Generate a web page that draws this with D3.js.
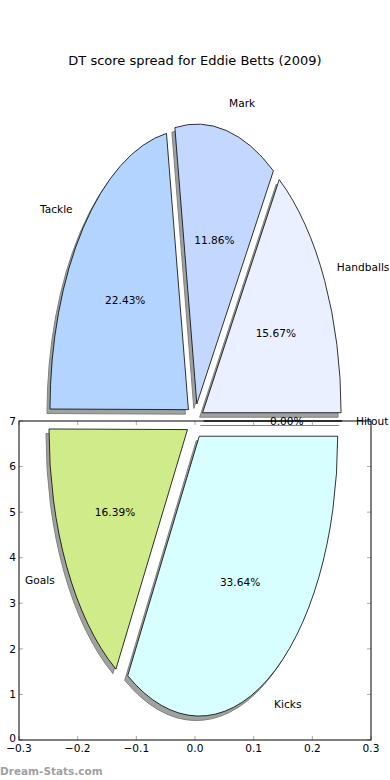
<!DOCTYPE html>
<html>
<head>
<meta charset="utf-8">
<script src="https://cdn.jsdelivr.net/npm/d3@7"></script>
<style>
  body { margin: 0; background: #fff; }
  svg { display: block; font-family: "DejaVu Sans", sans-serif; }
</style>
</head>
<body>
<script>
/*
*    pie of DT score spread
*/

var labels = ["Handballs", "Mark", "Tackle", "Goals", "Kicks", "Hitout"];
var shares = [15.67, 11.86, 22.43, 16.39, 33.64, 0.00];
var colors = ["#eaf0ff", "#c4d8ff", "#b3d4ff", "#cfeb8a", "#d8ffff", "#ffffff"];
var xTicks = [-0.3, -0.2, -0.1, 0.0, 0.1, 0.2, 0.3];
var yTicks = [0, 1, 2, 3, 4, 5, 6, 7];

var pieCenter = [0, 7];
var pieRadius = {x: 0.236, y: 6.14};
var explode = 0.0625;

var width = 390, height = 780;

var svg = d3.select("body")
  .append("svg")
  .attr("width", width)
  .attr("height", height);

var x = d3.scaleLinear().domain([-0.3, 0.3]).range([19, 371]);
var y = d3.scaleLinear().domain([0, 7]).range([740, 421]);

var cx = x(pieCenter[0]), cy = y(pieCenter[1]);
var rx = x(pieRadius.x) - x(0), ry = y(0) - y(pieRadius.y);

// title
svg.append("text")
  .attr("x", 195)
  .attr("y", 65)
  .attr("text-anchor", "middle")
  .attr("font-size", "13px")
  .text("DT score spread for Eddie Betts (2009)");

// wedge angles, counter-clockwise from 3 o'clock
var total = d3.sum(shares);
var wedges = [];
var acc = 0;
shares.forEach(function(v, i) {
  var a0 = acc / total * 2 * Math.PI;
  acc += v;
  var a1 = acc / total * 2 * Math.PI;
  var mid = (a0 + a1) / 2;
  wedges.push({
    label: labels[i], value: v, color: colors[i],
    a0: a0, a1: a1, mid: mid,
    ox: cx + explode * rx * Math.cos(mid),
    oy: cy - explode * ry * Math.sin(mid)
  });
});

function wedgePath(d, dx, dy) {
  var px = d.ox + dx, py = d.oy + dy;
  var x0 = px + rx * Math.cos(d.a0), y0 = py - ry * Math.sin(d.a0);
  var x1 = px + rx * Math.cos(d.a1), y1 = py - ry * Math.sin(d.a1);
  var large = (d.a1 - d.a0) > Math.PI ? 1 : 0;
  return "M" + px + "," + py + "L" + x0 + "," + y0 +
    "A" + rx + "," + ry + " 0 " + large + " 0 " + x1 + "," + y1 + "Z";
}

// shadows
svg.append("g").selectAll("path")
  .data(wedges)
  .enter()
  .append("path")
  .attr("d", function(d) { return wedgePath(d, -3, 4.5); })
  .attr("fill", "#a0a2a0")
  .attr("stroke", "#808280")
  .attr("stroke-width", 1);

// wedges
svg.append("g").selectAll("path")
  .data(wedges)
  .enter()
  .append("path")
  .attr("d", function(d) { return wedgePath(d, 0, 0); })
  .attr("fill", function(d) { return d.color; })
  .attr("stroke", "#000")
  .attr("stroke-width", 0.8)
  .attr("stroke-linejoin", "miter");

// outer labels
svg.append("g").selectAll("text")
  .data(wedges)
  .enter()
  .append("text")
  .attr("x", function(d) { return d.ox + 1.1 * rx * Math.cos(d.mid); })
  .attr("y", function(d) { return d.oy - 1.1 * ry * Math.sin(d.mid); })
  .attr("dy", "0.35em")
  .attr("font-size", "10.6px")
  .attr("text-anchor", function(d) { return Math.cos(d.mid) >= 0 ? "start" : "end"; })
  .text(function(d) { return d.label; });

// percent labels
svg.append("g").selectAll("text")
  .data(wedges)
  .enter()
  .append("text")
  .attr("x", function(d) { return d.ox + 0.6 * rx * Math.cos(d.mid); })
  .attr("y", function(d) { return d.oy - 0.6 * ry * Math.sin(d.mid); })
  .attr("dy", "0.35em")
  .attr("font-size", "10.6px")
  .attr("text-anchor", "middle")
  .text(function(d) { return d.value.toFixed(2) + "%"; });

// axes frame and ticks
var frame = svg.append("g");
var ticks = frame.append("g")
  .attr("stroke", "#aaa")
  .attr("stroke-width", 1);

xTicks.forEach(function(t) {
  ticks.append("line").attr("x1", x(t)).attr("x2", x(t)).attr("y1", y(0)).attr("y2", y(0) - 4);
  ticks.append("line").attr("x1", x(t)).attr("x2", x(t)).attr("y1", y(7)).attr("y2", y(7) + 4);
});
yTicks.forEach(function(t) {
  ticks.append("line").attr("x1", x(-0.3)).attr("x2", x(-0.3) + 4).attr("y1", y(t)).attr("y2", y(t));
  ticks.append("line").attr("x1", x(0.3)).attr("x2", x(0.3) - 4).attr("y1", y(t)).attr("y2", y(t));
});

frame.append("rect")
  .attr("x", x(-0.3))
  .attr("y", y(7))
  .attr("width", x(0.3) - x(-0.3))
  .attr("height", y(0) - y(7))
  .attr("fill", "none")
  .attr("stroke", "#000")
  .attr("stroke-width", 1);

frame.append("g").selectAll("text")
  .data(xTicks)
  .enter()
  .append("text")
  .attr("x", function(d) { return x(d); })
  .attr("y", y(0) + 12)
  .attr("font-size", "10.6px")
  .attr("text-anchor", "middle")
  .text(function(d) { return d3.format(".1f")(d).replace("-", "\u2212"); });

frame.append("g").selectAll("text")
  .data(yTicks)
  .enter()
  .append("text")
  .attr("x", x(-0.3) - 3)
  .attr("y", function(d) { return y(d) - (d === 0 ? 2 : 0); })
  .attr("dy", "0.35em")
  .attr("font-size", "10.6px")
  .attr("text-anchor", "end")
  .text(function(d) { return d; });

// watermark
svg.append("text")
  .attr("x", 0)
  .attr("y", 775)
  .attr("font-size", "10.5px")
  .attr("font-weight", "bold")
  .attr("fill", "#a0a0a0")
  .text("Dream-Stats.com");
</script>
</body>
</html>
